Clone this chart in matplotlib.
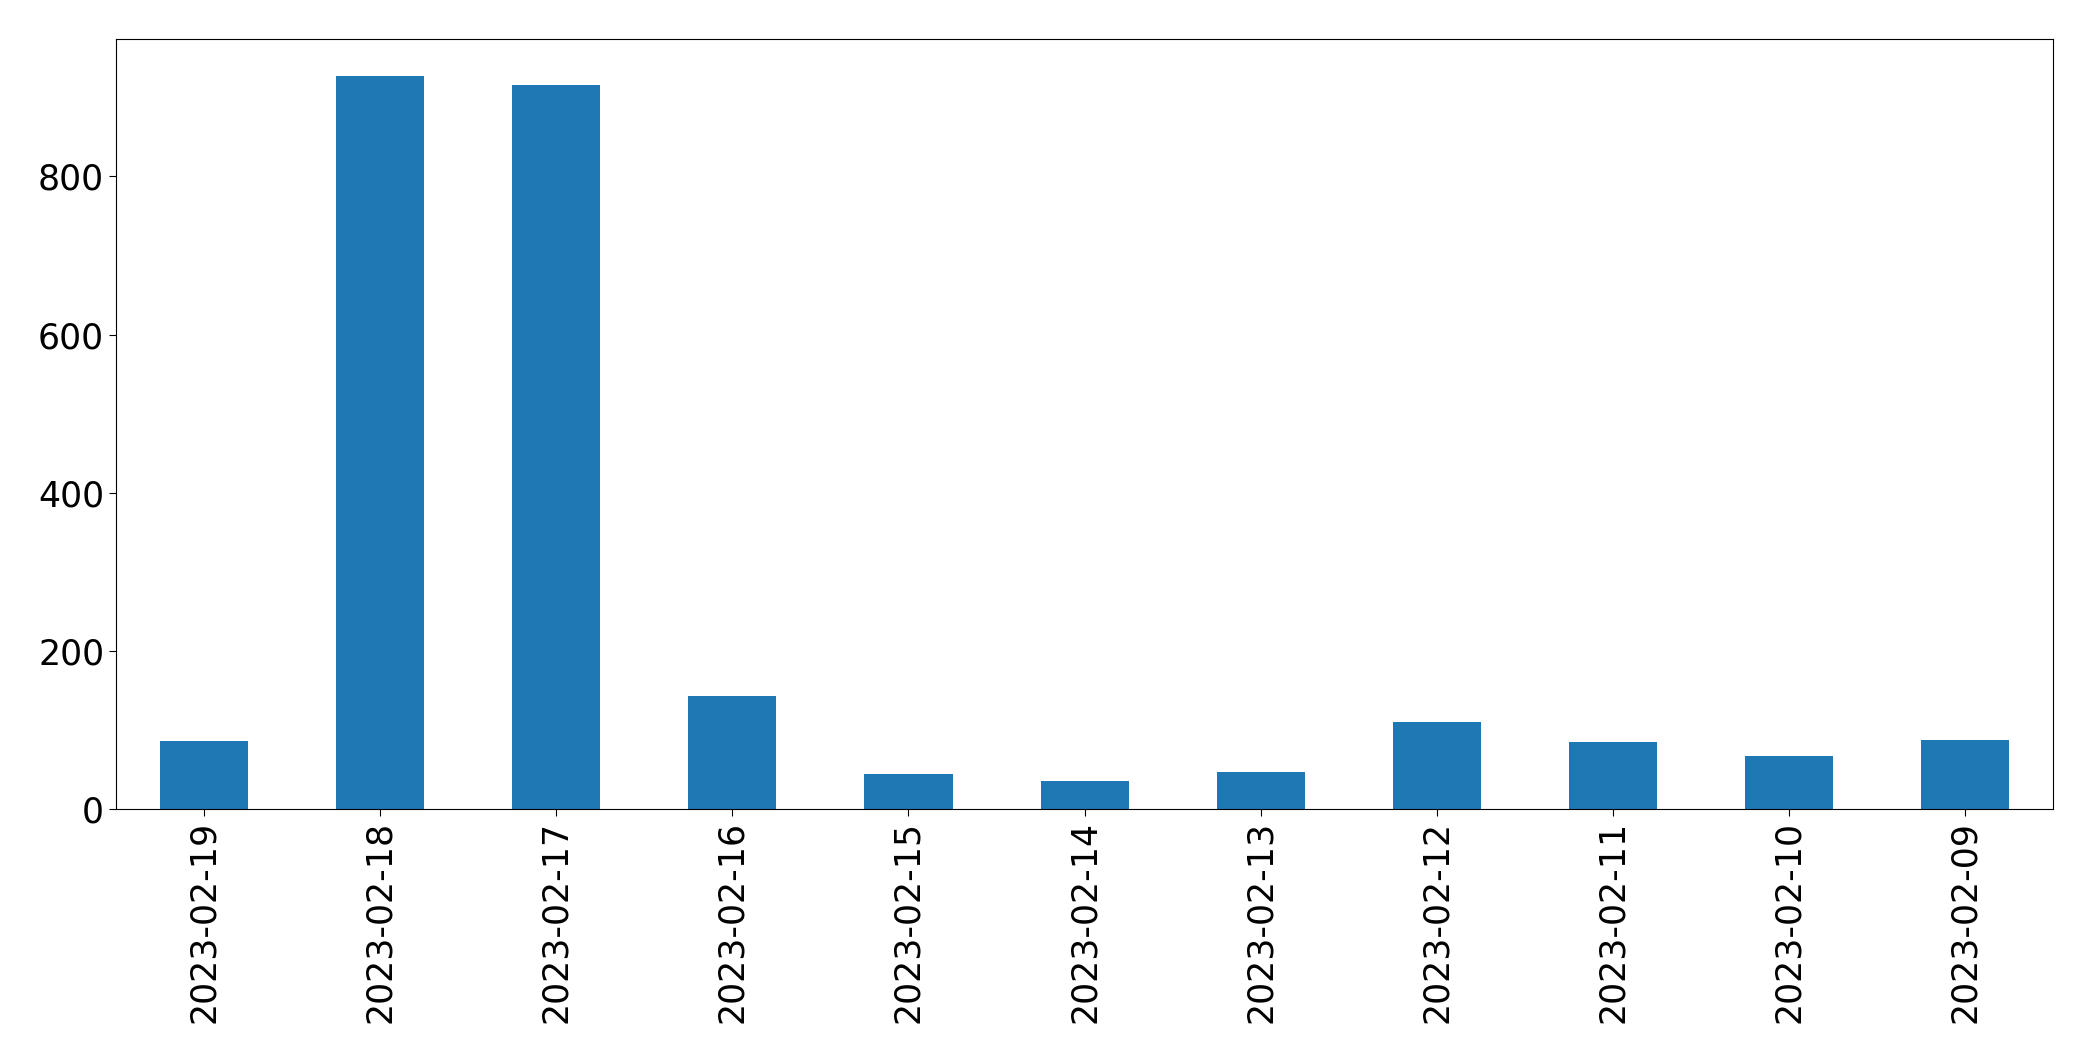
import matplotlib
matplotlib.use('Agg')
import matplotlib.pyplot as plt


dates = ['2023-02-19', '2023-02-18', '2023-02-17', '2023-02-16',
         '2023-02-15', '2023-02-14', '2023-02-13', '2023-02-12',
         '2023-02-11', '2023-02-10', '2023-02-09']
counts = [86, 927, 915, 143, 44, 35, 47, 110, 85, 67, 87]


if __name__ == '__main__':
    fig, ax = plt.subplots(figsize=(20.93, 10.61), dpi=100)
    pos = range(len(dates))
    ax.bar(pos, counts, width=0.5, color='#1f77b4')
    ax.set_xlim(-0.5, len(dates) - 0.5)
    ax.set_ylim(0, max(counts) * 1.05)
    ax.set_xticks(list(pos))
    ax.set_xticklabels(dates, rotation=90)
    ax.tick_params(axis='both', labelsize=25, length=5)
    fig.subplots_adjust(left=0.0554, right=0.981, top=0.963, bottom=0.2375)
    fig.savefig('out.png', dpi=100)
